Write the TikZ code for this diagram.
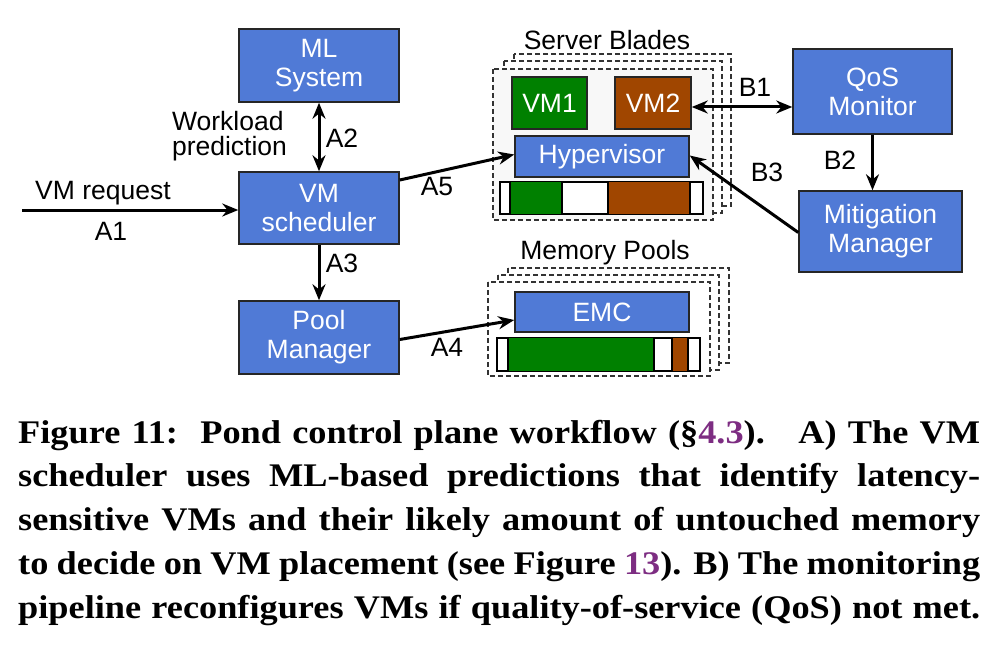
\documentclass[tikz,border=0pt]{standalone}
\usepackage{fontspec}
\setmainfont{Liberation Serif}
\newfontfamily\diagfont{Liberation Sans}
\newfontfamily\capfont[FakeStretch=1.1]{Liberation Serif}
\usetikzlibrary{arrows.meta}
\definecolor{boxblue}{RGB}{80,122,214}
\definecolor{vmgreen}{RGB}{0,128,0}
\definecolor{vmbrown}{RGB}{160,70,0}
\definecolor{refpurple}{RGB}{125,45,130}
\definecolor{bladegray}{RGB}{248,248,248}
\tikzset{blk/.style = {draw=black!85, line width=1.5pt, fill=boxblue, text=white,
    inner sep=0pt, align=center, font=\diagfont\fontsize{26.5}{29}\selectfont},
  lbl/.style = {inner sep=0pt, align=left, font=\diagfont\fontsize{26.5}{25}\selectfont},
  flow/.style = {line width=3pt, -{Stealth[length=16pt,width=13pt]}},
  flow2/.style = {line width=3pt, {Stealth[length=16pt,width=13pt]}-{Stealth[length=16pt,width=13pt]}},
  pile/.style = {draw=black!80, line width=1.2pt, dash pattern=on 5pt off 3pt}}

\begin{document}
\begin{tikzpicture}[x=1pt, y=-1pt]
  \useasboundingbox (0,0) rectangle (1008,658);
  % server blades stack
  \draw[pile, fill=white] (514,54) rectangle (731,206);
  \draw[pile, fill=white] (504,61) rectangle (722,213);
  \draw[pile, fill=bladegray] (493,69) rectangle (713,220);
  \node[lbl] (blades) at (607,40) {Server Blades};
  % memory pool stack
  \draw[pile, fill=white] (508,268) rectangle (729,363);
  \draw[pile, fill=white] (498,275) rectangle (719,370);
  \draw[pile, fill=white] (488,282) rectangle (710,376);
  \node[lbl] (pools) at (605,253) {Memory Pools};

  \node[blk, minimum width=160pt, minimum height=73pt] (ml) at (319,65.5) {ML\\System};
  \node[blk, minimum width=160pt, minimum height=72pt] (sched) at (319,208) {VM\\scheduler};
  \node[blk, minimum width=160pt, minimum height=73pt] (pool) at (319,337.5) {Pool\\Manager};
  \node[blk, minimum width=159pt, minimum height=85pt] (qos) at (872.5,91.5) {QoS\\Monitor};
  \node[blk, minimum width=163pt, minimum height=81pt] (mitig) at (880.5,231.5) {Mitigation\\Manager};
  \node[blk, fill=vmgreen, minimum width=75pt, minimum height=52pt] (vm1) at (549.5,103) {VM1};
  \node[blk, fill=vmbrown, minimum width=76pt, minimum height=52pt] (vm2) at (653,103) {VM2};
  \node[blk, minimum width=174pt, minimum height=41pt] (hyp) at (602,156.5) {Hypervisor};
  \node[blk, minimum width=174pt, minimum height=40pt] (emc) at (602,312) {EMC};

  % memory bars
  \draw[line width=1.5pt, fill=white] (500,182) rectangle (703,214);
  \fill[vmgreen] (510,182) rectangle (562,214);
  \fill[vmbrown] (608,182) rectangle (690,214);
  \draw[line width=1.5pt] (510,182) -- (510,214) (562,182) -- (562,214)
    (608,182) -- (608,214) (690,182) -- (690,214);
  \draw[line width=1.5pt, fill=white] (497,338) rectangle (700,371);
  \fill[vmgreen] (508,338) rectangle (654,371);
  \fill[vmbrown] (672,338) rectangle (688,371);
  \draw[line width=1.5pt] (508,338) -- (508,371) (654,338) -- (654,371)
    (672,338) -- (672,371) (688,338) -- (688,371);

  % A) placement
  \coordinate (req) at (22,210);
  \draw[flow] (req) -- (req -| sched.west);
  \node[lbl] (reqtxt) at (103,193) {VM request};
  \node[lbl] (a1) at (111,231) {A1};
  \draw[flow2] (ml) -- (sched);
  \node[lbl] (pred) at (229.5,136) {Workload\\prediction};
  \node[lbl] (a2) at (342,138) {A2};
  \draw[flow] (sched) -- (pool);
  \node[lbl] (a3) at (342,263) {A3};
  \draw[flow] ([yshift=-2pt]pool.east) -- ([yshift=-8pt]emc.west);
  \node[lbl] (a4) at (447,347) {A4};
  \draw[flow] ([yshift=28pt]sched.east) -- ([yshift=2pt]hyp.west);
  \node[lbl] (a5) at (437,187) {A5};

  % B) monitoring
  \draw[flow2] ([yshift=-4pt]vm2.east) -- ([yshift=-4pt]vm2.east -| qos.west);
  \node[lbl] (b1) at (755,87) {B1};
  \draw[flow] (qos.south) -- (qos.south |- mitig.north);
  \node[lbl] (b2) at (840,160) {B2};
  \draw[flow] ([yshift=-1pt]mitig.west) -- ([yshift=1pt]hyp.east);
  \node[lbl] (b3) at (767,172) {B3};

  % caption
  \node[anchor=base west, inner sep=0pt, text width=962pt, align=justify,
    font=\capfont\bfseries\fontsize{33}{43.75}\selectfont] (cap) at (18,443)
    {\parfillskip=0pt Figure 11:\ \ Pond control plane workflow (\S\textcolor{refpurple}{4.3}).\ \ \ A) The VM\linebreak
     scheduler uses ML-based predictions that identify latency-\linebreak
     sensitive VMs and their likely amount of untouched memory\linebreak
     to decide on VM placement (see Figure \textcolor{refpurple}{13}). B) The monitoring\linebreak
     pipeline reconfigures VMs if quality-of-service (QoS) not met.\par};
\end{tikzpicture}
\end{document}
